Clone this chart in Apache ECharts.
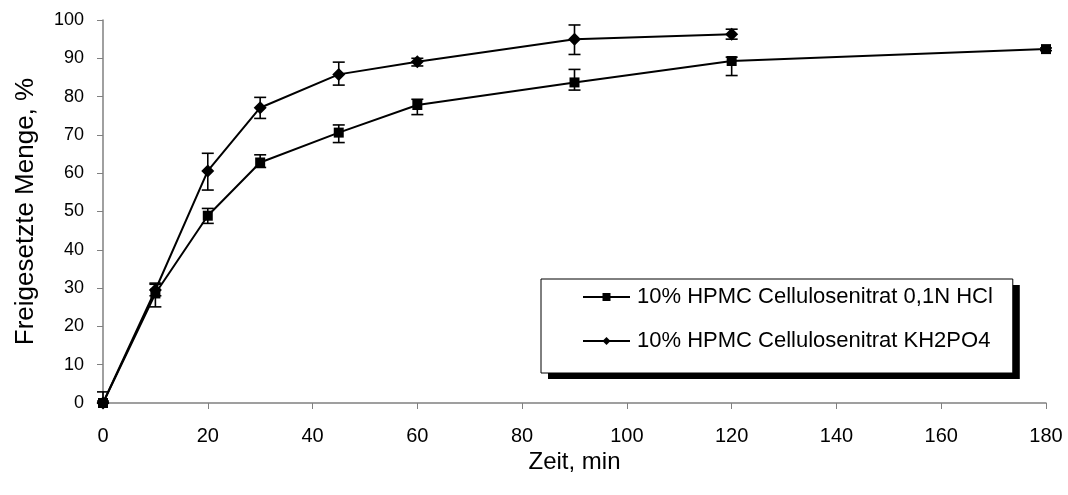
<!DOCTYPE html>
<html>
<head>
<meta charset="utf-8">
<script src="https://cdn.jsdelivr.net/npm/echarts@6/dist/echarts.min.js"></script>
<style>
html,body{margin:0;padding:0;background:#fff;}
#c{width:1068px;height:495px;}
</style>
</head>
<body>
<div id="c"></div>
<script>
var seriesNames = ['10% HPMC Cellulosenitrat 0,1N HCl', '10% HPMC Cellulosenitrat KH2PO4'];
var timesHcl = [0, 10, 20, 30, 45, 60, 90, 120, 180];
var hcl      = [0, 28.6, 48.9, 62.8, 70.6, 77.8, 83.7, 89.3, 92.4];
var hclLow   = [0, 25.1, 46.9, 61.5, 68.0, 75.3, 81.7, 85.5, 92.0];
var hclHigh  = [2.9, 31.3, 50.8, 64.8, 72.6, 79.3, 87.1, 90.3, 92.7];
var timesKh  = [0, 10, 20, 30, 45, 60, 90, 120];
var kh       = [0, 29.5, 60.6, 77.1, 85.8, 89.1, 95.0, 96.3];
var khLow    = [0, 28.0, 55.6, 74.3, 83.0, 88.0, 91.0, 95.0];
var khHigh   = [0.5, 31.0, 65.2, 79.8, 89.0, 90.0, 98.7, 97.6];
var xTicks = [0, 20, 40, 60, 80, 100, 120, 140, 160, 180];
var yTicks = [0, 10, 20, 30, 40, 50, 60, 70, 80, 90, 100];

function pairs(xs, ys) { return xs.map(function (x, i) { return [x, ys[i]]; }); }
function triples(xs, lo, hi) { return xs.map(function (x, i) { return [x, lo[i], hi[i]]; }); }

function errRender(params, api) {
  var x = api.value(0);
  var lo = api.coord([x, api.value(1)]);
  var hi = api.coord([x, api.value(2)]);
  var w = 6;
  var st = { stroke: '#000', lineWidth: 1.6 };
  return {
    type: 'group',
    children: [
      { type: 'line', shape: { x1: lo[0], y1: lo[1], x2: hi[0], y2: hi[1] }, style: st },
      { type: 'line', shape: { x1: lo[0] - w, y1: lo[1], x2: lo[0] + w, y2: lo[1] }, style: st },
      { type: 'line', shape: { x1: hi[0] - w, y1: hi[1], x2: hi[0] + w, y2: hi[1] }, style: st }
    ]
  };
}

var legendBase = {
  orient: 'vertical', left: 541, top: 279,
  data: seriesNames,
  padding: [7, 20, 21, 41],
  itemGap: 22, itemWidth: 47, itemHeight: 10,
  selectedMode: false
};
var legendShadow = Object.assign({}, legendBase, {
  z: 5,
  backgroundColor: '#fff', borderWidth: 0,
  shadowColor: '#000', shadowBlur: 0, shadowOffsetX: 7, shadowOffsetY: 6,
  itemStyle: { opacity: 0 }, lineStyle: { opacity: 0 },
  textStyle: { fontFamily: 'Liberation Sans, Arial', fontSize: 22, color: 'rgba(0,0,0,0)', padding: [0, 0, 0, 2] }
});
var legendMain = Object.assign({}, legendBase, {
  z: 6,
  backgroundColor: 'transparent', borderColor: '#000', borderWidth: 1,
  textStyle: { fontFamily: 'Liberation Sans, Arial', fontSize: 22, color: '#000', padding: [0, 0, 0, 2] }
});

var chart = echarts.init(document.getElementById('c'), null, { renderer: 'canvas' });
var axisGrey = '#808080';
chart.setOption({
  animation: false,
  backgroundColor: '#fff',
  grid: { left: 103, right: 22, top: 20, bottom: 92, containLabel: false },
  xAxis: {
    type: 'value', min: xTicks[0], max: xTicks[xTicks.length - 1], interval: 20,
    name: 'Zeit, min', nameLocation: 'middle', nameGap: 47, nameMoveOverlap: false,
    nameTextStyle: { fontFamily: 'Liberation Sans Narrow, Liberation Sans, Arial', fontSize: 24, color: '#000' },
    axisLine: { show: true, lineStyle: { color: axisGrey, width: 1.5 } },
    axisTick: { show: true, length: 6, inside: false, lineStyle: { color: axisGrey, width: 1 } },
    axisLabel: { margin: 23, fontFamily: 'Liberation Sans Narrow, Liberation Sans, Arial', fontSize: 20, color: '#000' },
    splitLine: { show: false }
  },
  yAxis: {
    type: 'value', min: yTicks[0], max: yTicks[yTicks.length - 1], interval: 10,
    name: 'Freigesetzte Menge, %', nameLocation: 'middle', nameGap: 64, nameRotate: 90, nameMoveOverlap: false,
    nameTextStyle: { fontFamily: 'Liberation Sans, Arial', fontSize: 26, color: '#000' },
    axisLine: { show: true, lineStyle: { color: axisGrey, width: 1.5 } },
    axisTick: { show: true, length: 6, inside: false, lineStyle: { color: axisGrey, width: 1 } },
    axisLabel: { margin: 19, fontFamily: 'Liberation Sans, Arial', fontSize: 18, color: '#000' },
    splitLine: { show: false }
  },
  legend: [legendShadow, legendMain],
  series: [
    {
      name: seriesNames[0], type: 'line', data: pairs(timesHcl, hcl),
      symbol: 'rect', symbolSize: 10, showSymbol: true,
      lineStyle: { color: '#000', width: 2 }, itemStyle: { color: '#000' }, z: 3
    },
    {
      name: seriesNames[1], type: 'line', data: pairs(timesKh, kh),
      symbol: 'diamond', symbolSize: 13, showSymbol: true,
      lineStyle: { color: '#000', width: 2 }, itemStyle: { color: '#000' }, z: 3
    },
    {
      type: 'custom', renderItem: errRender, data: triples(timesHcl, hclLow, hclHigh),
      encode: { x: 0, y: [1, 2] }, z: 4, silent: true
    },
    {
      type: 'custom', renderItem: errRender, data: triples(timesKh, khLow, khHigh),
      encode: { x: 0, y: [1, 2] }, z: 4, silent: true
    }
  ]
});
</script>
</body>
</html>
